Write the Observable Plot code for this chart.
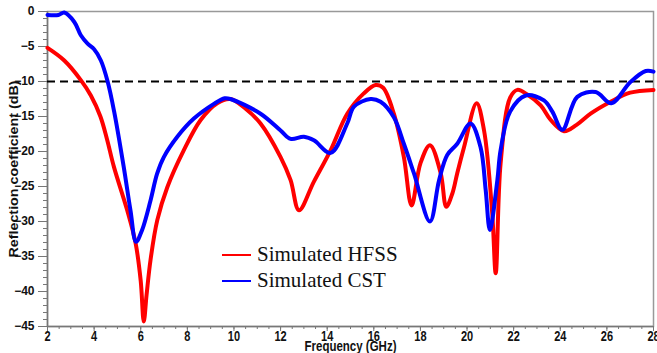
<!DOCTYPE html>
<html><head><meta charset="utf-8">
<script src="https://cdn.jsdelivr.net/npm/d3@7"></script>
<script src="https://cdn.jsdelivr.net/npm/@observablehq/plot@0.6"></script>
<style>
body{margin:0;background:#fff;}
#wrap{position:relative;width:657px;height:353px;overflow:hidden;}
.leg{position:absolute;font-family:"Liberation Serif","Times New Roman",serif;font-size:21px;color:#111;display:flex;align-items:center;}
.leg span.sw{display:inline-block;width:29px;height:2px;margin-right:6px;}
</style>
</head><body>
<div id="wrap"></div>
<script>
const hfssFreq = [2,2.72,3.43,3.86,4.27,4.55,4.85,5.42,5.78,6.0,6.13,6.25,6.42,6.71,7.14,7.85,8.57,9.28,9.85,10.5,11.14,12.0,12.43,12.79,13.43,14.15,14.86,15.57,16.08,16.4,16.86,17.29,17.62,18.0,18.41,18.87,19.11,19.37,19.58,19.87,20.41,20.73,21.08,21.23,21.44,21.85,22.16,22.6,23.16,23.59,24.16,24.7,25.3,26.16,27.0,28];
const hfssDb   = [-5.2,-7.0,-9.8,-12,-15.0,-18.2,-22.2,-28.4,-33.1,-38.5,-44.3,-40.5,-35.5,-29.8,-25.1,-19.8,-15.5,-13.1,-12.5,-13.9,-16.0,-20.8,-24.1,-28.4,-24.3,-19.8,-14.6,-11.7,-10.5,-10.9,-14.6,-20.8,-27.7,-21.7,-19.1,-23.1,-27.9,-26,-23.1,-19.4,-13.1,-17,-28.8,-37.4,-21.7,-12.3,-11.2,-11.9,-13.4,-15.5,-17.1,-16.2,-14.6,-12.9,-11.6,-11.2];
const cstFreq = [2,2.47,2.72,3.15,3.43,3.72,4.0,4.29,4.58,4.86,5.27,5.56,5.8,6.06,6.42,6.7,6.99,7.57,8.28,9.14,9.6,9.85,11.14,12.0,12.43,13.0,13.43,14.15,14.86,15.15,15.86,16.29,16.86,17.29,17.72,18.41,18.8,19.15,19.58,20.15,20.58,20.8,20.98,21.3,21.44,21.85,22.52,23.3,23.66,24.09,24.73,25.52,26.19,27.0,27.67,28];
const cstDb   = [-0.5,-0.5,-0.15,-1.5,-3.4,-4.6,-5.4,-7.0,-10,-14.3,-22.2,-28.4,-32.9,-31.2,-27,-23.2,-20.8,-17.9,-15.3,-13.2,-12.4,-12.5,-14.6,-17.0,-18.2,-17.9,-18.4,-20.2,-16,-13.6,-12.5,-12.9,-15.1,-18.9,-23.1,-30.0,-24.1,-20.5,-18.9,-16.0,-19.4,-25.5,-31.2,-24.1,-19.8,-14.3,-12.0,-12.7,-14.3,-16.9,-12.2,-11.5,-13.1,-10.1,-8.5,-8.6];
const refLevel = [-10];
const xMajor = d3.range(2, 28.01, 2);
const xMinor = d3.range(2, 28.01, 0.5);
const yMajor = d3.range(-45, 0.01, 5);
const yMinor = d3.range(-45, 0.01, 1);
const xLabel = "Frequency (GHz)";
const yLabel = "Reflection coefficient (dB)";
const seriesNames = ["Simulated HFSS", "Simulated CST"];
const seriesColors = ["#ff0000", "#0000ff"];

const hfss = hfssFreq.map((f,i)=>({f, db:hfssDb[i]}));
const cst = cstFreq.map((f,i)=>({f, db:cstDb[i]}));

const chart = Plot.plot({
  width: 657, height: 353,
  marginLeft: 47, marginRight: 4, marginTop: 11, marginBottom: 27,
  x: {domain: [2, 28]},
  y: {domain: [-45, 0]},
  style: {fontFamily: "Arial, 'Liberation Sans', sans-serif", fontWeight: "bold", fontSize: "12px", color: "#111", background: "#fff"},
  marks: [
    Plot.frame({stroke: "#999", strokeWidth: 1.5}),
    Plot.axisX({ticks: xMinor, tickSize: 3, tickFormat: () => "", stroke: "#777", label: null}),
    Plot.axisX({ticks: xMajor, tickSize: 5, tickPadding: 0, stroke: "#777", fill: "#111", fontSize: 11, fontWeight: "bold", label: null}),
    Plot.axisY({ticks: yMinor, tickSize: 4, tickFormat: () => "", stroke: "#777", label: null}),
    Plot.axisY({ticks: yMajor, tickSize: 9, tickPadding: 4, stroke: "#777", fill: "#111", fontSize: 12, fontWeight: "bold", label: null}),
    Plot.ruleX([2], {stroke: "#777", strokeWidth: 1.5}),
    Plot.ruleY([-45], {stroke: "#777", strokeWidth: 1.5}),
    Plot.ruleY(refLevel, {stroke: "#000", strokeWidth: 2.2, strokeDasharray: "8,5"}),
    Plot.line(hfss, {x: "f", y: "db", stroke: seriesColors[0], strokeWidth: 4, curve: "catmull-rom"}),
    Plot.line(cst, {x: "f", y: "db", stroke: seriesColors[1], strokeWidth: 4, curve: "catmull-rom"}),
    Plot.text([xLabel], {frameAnchor: "bottom", dy: 23, fontSize: 11.5, fontWeight: "bold", fill: "#111"}),
    Plot.text([yLabel], {frameAnchor: "left", dx: -34, rotate: -90, textAnchor: "middle", fontSize: 13, fontWeight: "bold", fill: "#111"})
  ]
});
chart.style.overflow = "visible";
const wrap = document.getElementById("wrap");
wrap.appendChild(chart);

function stretch(t, sx, sy) {
  const b = t.getBBox();
  const cx = b.x + b.width / 2, cy = b.y + b.height / 2;
  const T = t.getAttribute("transform") || "";
  t.setAttribute("transform", `${T} translate(${cx},${cy}) scale(${sx},${sy}) translate(${-cx},${-cy})`);
}
const xTickStrings = xMajor.map(String);
chart.querySelectorAll("text").forEach(t => {
  const s = t.textContent.trim();
  if (xTickStrings.includes(s)) stretch(t, 1, 1.4);
  else if (s === xLabel) stretch(t, 1, 1.3);
  else if (s === yLabel) stretch(t, 1.1, 1);
});

const legTops = [242, 268];
seriesNames.forEach((n, i) => {
  const d = document.createElement("div");
  d.className = "leg";
  d.style.left = "222px";
  d.style.top = legTops[i] + "px";
  d.innerHTML = `<span class="sw" style="background:${seriesColors[i]}"></span>${n}`;
  wrap.appendChild(d);
});
</script>
</body></html>
